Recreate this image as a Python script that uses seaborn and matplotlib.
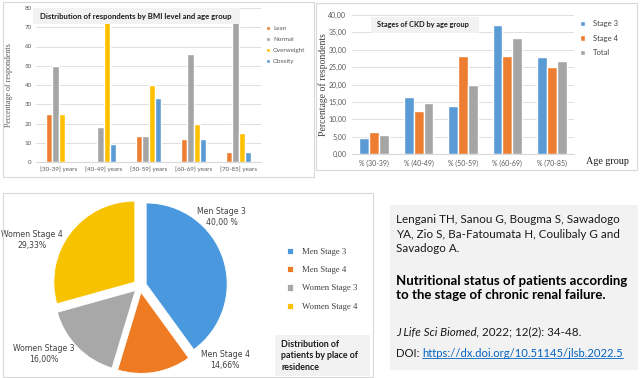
import numpy as np
import pandas as pd
import seaborn as sns
import matplotlib.pyplot as plt
from matplotlib.patches import Rectangle
from matplotlib.ticker import FuncFormatter

# --- BMI by age group (top left) ---
bmi_ages = ['[30-39] years', '[40-49] years', '[50-59] years', '[60-69] years', '[70-85] years']
bmi_levels = ['Lean', 'Normal', 'Overweight', 'Obesity']
lean = [25, 0, 13.3, 12, 5]
normal = [50, 18.2, 13.3, 56, 75]
overweight = [25, 72.7, 40, 20, 15]
obesity = [0, 9.1, 33.3, 12, 5]
bmi_colors = ['#ED7D31', '#A5A5A5', '#FFC000', '#5B9BD5']

# --- CKD stages by age group (top right) ---
ckd_ages = ['% (30-39)', '% (40-49)', '% (50-59)', '% (60-69)', '% (70-85)']
ckd_series = ['Stage 3', 'Stage 4', 'Total']
stage3 = [4.65, 16.28, 13.95, 37.21, 27.91]
stage4 = [6.25, 12.5, 28.12, 28.12, 25.0]
total = [5.33, 14.67, 20.0, 33.33, 26.67]
ckd_colors = ['#5B9BD5', '#ED7D31', '#A5A5A5']

# --- pie (bottom left) ---
pie_labels = ['Men Stage 3', 'Men Stage 4', 'Women Stage 3', 'Women Stage 4']
pie_values = [40.00, 14.66, 16.00, 29.33]
pie_text = ['40,00 %', '14,66%', '16,00%', '29,33%']
pie_colors = ['#4A98DD', '#EE7A22', '#A8A8A8', '#F7C300']

W, H = 640, 378
sns.set_style('white')
plt.rcParams['font.family'] = ['Lato', 'DejaVu Sans']

fig = plt.figure(figsize=(6.4, 3.78), dpi=100)


def box(x0, y0, x1, y1):
    return [x0 / W, 1 - y1 / H, (x1 - x0) / W, (y1 - y0) / H]


def style_bars(ax):
    for s in ax.spines.values():
        s.set_visible(False)
    ax.spines['bottom'].set_visible(True)
    ax.spines['bottom'].set_color('#D9D9D9')
    ax.grid(axis='y', color='#D9D9D9', lw=0.6)
    ax.set_axisbelow(True)
    ax.patch.set_alpha(0)
    ax.set_xlabel('')


# BMI chart
df_bmi = pd.DataFrame({
    'age': bmi_ages * 4,
    'level': np.repeat(bmi_levels, 5),
    'pct': lean + normal + overweight + obesity,
})
ax1 = fig.add_axes(box(36, 8, 261, 162))
sns.barplot(data=df_bmi, x='age', y='pct', hue='level', hue_order=bmi_levels,
            palette=bmi_colors, width=0.56, saturation=1, ax=ax1)
style_bars(ax1)
ax1.set_ylim(0, 80)
ax1.set_yticks(range(0, 81, 10))
ax1.tick_params(length=0, labelsize=4.5, labelcolor='#595959', pad=3)
ax1.set_ylabel('Percentage of respondents', family='Liberation Serif', fontsize=5.8, color='#595959')
ax1.yaxis.set_label_coords(-0.10, 0.5)
ax1.legend(loc='upper left', bbox_to_anchor=(266 / W, 1 - 26 / H), bbox_transform=fig.transFigure,
           frameon=False, fontsize=4.5, handlelength=0.7, handleheight=0.7, handletextpad=0.4,
           labelspacing=0.9, borderpad=0, borderaxespad=0, labelcolor='#595959')

# CKD chart
df_ckd = pd.DataFrame({
    'age': ckd_ages * 3,
    'stage': np.repeat(ckd_series, 5),
    'pct': stage3 + stage4 + total,
})
ax2 = fig.add_axes(box(352, 15, 574, 154))
sns.barplot(data=df_ckd, x='age', y='pct', hue='stage', hue_order=ckd_series,
            palette=ckd_colors, width=0.67, saturation=1, ax=ax2)
style_bars(ax2)
ax2.set_ylim(0, 40)
ax2.set_yticks(range(0, 41, 5))
ax2.yaxis.set_major_formatter(FuncFormatter(lambda v, p: f'{v:.2f}'.replace('.', ',')))
ax2.tick_params(length=0, labelsize=5, labelcolor='#595959', pad=4)
ax2.set_ylabel('Percentage of respondents', family='Liberation Serif', fontsize=7, color='#404040')
ax2.yaxis.set_label_coords(-0.11, 0.5)
ax2.legend(loc='upper left', bbox_to_anchor=(580 / W, 1 - 20 / H), bbox_transform=fig.transFigure,
           frameon=False, fontsize=5.5, handlelength=0.7, handleheight=0.7, handletextpad=1.0,
           labelspacing=1.0, borderpad=0, borderaxespad=0, labelcolor='#404040')

# pie
R = 81
ax3 = fig.add_axes(box(140 - 1.5 * R, 286 - 1.5 * R, 140 + 1.5 * R, 286 + 1.5 * R))
wedges, _ = ax3.pie(pie_values, colors=pie_colors, startangle=90, counterclock=False,
                    explode=[0.08] * 4, wedgeprops=dict(edgecolor='#FFFFFF', linewidth=0.6))
ax3.set_xlim(-1.5, 1.5)
ax3.set_ylim(-1.5, 1.5)
label_pos = [(1.01, 0.85), (1.05, -0.91), (-1.19, -0.84), (-1.33, 0.57)]
for (lx, ly), name, pct in zip(label_pos, pie_labels, pie_text):
    ax3.text(lx, ly, f'{name}\n{pct}', ha='center', va='center', fontsize=5.6,
             family='DejaVu Sans', color='#404040', linespacing=1.3)
ax3.legend(wedges, pie_labels, loc='upper left', bbox_to_anchor=(287 / W, 1 - 248 / H),
           bbox_transform=fig.transFigure, frameon=False,
           prop=dict(family='Liberation Serif', size=6.3), labelcolor='#404040',
           handlelength=0.7, handleheight=0.7, handletextpad=1.0, labelspacing=1.15,
           borderpad=0, borderaxespad=0)

# overlay: frames, title boxes and citation
ov = fig.add_axes([0, 0, 1, 1])
ov.set_xlim(0, W)
ov.set_ylim(H, 0)
ov.axis('off')
ov.patch.set_alpha(0)

for (x0, y0, x1, y1) in [(3, 2, 314, 177), (316, 3, 637, 170), (3, 193, 373, 377)]:
    ov.add_patch(Rectangle((x0, y0), x1 - x0, y1 - y0, fill=False, ec='#D9D9D9', lw=0.8))
for (x0, y0, x1, y1) in [(33, 8, 240, 24), (371, 17, 479, 33), (275, 335, 370, 376), (390, 205, 638, 370)]:
    ov.add_patch(Rectangle((x0, y0), x1 - x0, y1 - y0, fc='#F2F2F2', ec='none'))

ov.text(40, 16, 'Distribution of respondents by BMI level and age group', fontsize=5.6,
        fontweight='bold', va='center', color='#1A1A1A')
ov.text(377, 25, 'Stages of CKD by age group', fontsize=5.3, fontweight='bold', va='center', color='#1A1A1A')
ov.text(586, 162, 'Age group', family='Liberation Serif', fontsize=7.3, va='center', color='#1A1A1A')
ov.text(281, 356, 'Distribution of\npatients by place of\nresidence', fontsize=6.4, fontweight='bold',
        va='center', linespacing=1.35, color='#1A1A1A')

ov.text(396, 234, 'Lengani TH, Sanou G, Bougma S, Sawadogo\nYA, Zio S, Ba-Fatoumata H, Coulibaly G and\nSavadogo A.',
        fontsize=8.35, va='center', linespacing=1.42, color='#1A1A1A')
ov.text(396, 288, 'Nutritional status of patients according\nto the stage of chronic renal failure.',
        fontsize=9.5, fontweight='bold', va='center', linespacing=1.2, color='#000000')
t = ov.text(396, 337, 'J Life Sci Biomed,', fontsize=8.35, style='italic', va='bottom', color='#1A1A1A')
ov.annotate(' 2022; 12(2): 34-48.', xy=(1, 0), xycoords=t, fontsize=8.35, va='bottom', color='#1A1A1A')
d = ov.text(396, 359, 'DOI:', fontsize=8.2, va='bottom', color='#1A1A1A')
link = ov.annotate('https://dx.doi.org/10.51145/jlsb.2022.5', xy=(1, 0), xycoords=d, xytext=(1.8, 0),
                   textcoords='offset points', fontsize=8.1, va='bottom', color='#0563C1')

fig.canvas.draw()
bb = link.get_window_extent()
inv = ov.transData.inverted()
(ux0, _), (ux1, _) = inv.transform([(bb.x0, bb.y0), (bb.x1, bb.y0)])
ov.plot([ux0, ux1], [357.5, 357.5], color='#0563C1', lw=0.6)

fig.savefig('out.png', dpi=100)
